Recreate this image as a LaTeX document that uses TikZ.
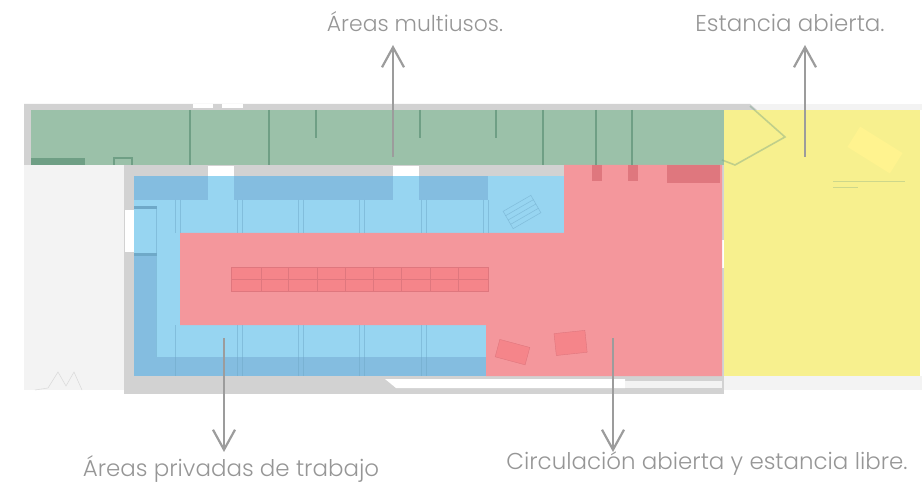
\documentclass[tikz,border=0pt]{standalone}
\usepackage{fontspec}
\setmainfont{Poppins Light}
\usetikzlibrary{arrows.meta}
\definecolor{zgreen}{HTML}{9BC1A9}
\definecolor{zgreenD}{HTML}{6F9F85}
\definecolor{zblue}{HTML}{97D5F1}
\definecolor{zblueD}{HTML}{84BDE0}
\definecolor{zblueL}{HTML}{6FA9C8}
\definecolor{zred}{HTML}{F4979C}
\definecolor{zredD}{HTML}{F5858A}
\definecolor{zredW}{HTML}{DF777E}
\definecolor{zyellow}{HTML}{F7F08E}
\definecolor{zyellowL}{HTML}{FFF38F}
\definecolor{zwall}{HTML}{D2D2D2}
\definecolor{zfloor}{HTML}{F3F3F3}
\definecolor{ztext}{HTML}{969696}
\definecolor{zarrow}{HTML}{9C9C9C}
\tikzset{
  label text/.style={text=ztext,font=\fontsize{22.95}{26}\selectfont,inner sep=0pt,anchor=base},
  callout/.style={draw=zarrow,line width=2.4pt,-{Straight Barb[length=20pt,width=22pt,line width=2.2pt]}},
  zone/.style={draw=none},
  wall/.style={fill=zwall,draw=none},
  partition/.style={draw=zgreenD,line width=2pt},
  thin blue/.style={draw=zblueL,line width=.6pt,opacity=.5},
  desk/.style={fill=zredD,draw=zredW,line width=.4pt},
}
\begin{document}
\begin{tikzpicture}[x=1pt,y=-1pt]
\useasboundingbox (0,0) rectangle (922,484);
% pale plan background
\fill[zfloor] (24,165) rectangle (124,390);
\fill[zfloor] (724,376) rectangle (922,390);
\fill[zfloor] (750,104) rectangle (922,110);
\draw[zwall,line width=.6pt,opacity=.7] (35,390) -- (48,388) -- (58,372) -- (66,386) -- (74,372) -- (82,390);
% walls
\fill[wall] (24,104) -- (750,104) -- (757,110) -- (24,110) -- cycle;
\fill[white] (193,104) rectangle (213,108);
\fill[white] (222,104) rectangle (243,108);
\fill[wall] (24,104) rectangle (31,165);
\fill[wall] (124,165) rectangle (564,176);
\fill[white] (208,166) rectangle (234,176);
\fill[white] (393,166) rectangle (419,176);
\fill[wall] (124,165) rectangle (134,394);
\fill[white] (125,210) rectangle (134,252);
\fill[wall] (124,376) rectangle (724,394);
\fill[white] (385,379) -- (625,379) -- (625,388) -- (396,388) -- cycle;
\fill[zfloor] (625,381) rectangle (722,388);
\fill[wall] (722,165) rectangle (724,376);
\fill[white] (722,240) rectangle (724,268);
% colour zones
\fill[zone,zgreen] (31,110) rectangle (724,165);
\fill[zone,zblue] (134,176) rectangle (564,376);
\fill[zone,zred] (180,233) -- (564,233) -- (564,165) -- (722,165) -- (722,376) -- (486,376) -- (486,325) -- (180,325) -- cycle;
\fill[zone,zyellow] (724,110) rectangle (920,376);
% blue darker bands
\fill[zblueD] (134,176) rectangle (208,200);
\fill[zblueD] (234,176) rectangle (393,200);
\fill[zblueD] (419,176) rectangle (488,200);
\fill[zblueD] (134,357) rectangle (486,376);
\fill[zblueD] (134,255) rectangle (156,357);
\fill[zblueL] (134,206) rectangle (157,209);
\fill[zblueL] (134,253) rectangle (157,256);
% blue thin structure
\foreach \cx in {175,180,237,242,298,303,359,364,421,426,483,488}{
  \draw[thin blue] (\cx,200) -- (\cx,233);
}
\foreach \cx in {175,237,242,298,303,359,364,421,426}{
  \draw[thin blue] (\cx,325) -- (\cx,376);
}
\draw[thin blue] (156,209) -- (156,357);
\draw[thin blue,rotate around={30:(522,212)}] (506,202) rectangle (538,222);
\draw[thin blue,rotate around={30:(522,212)}] (506,207) -- (538,207) (506,212) -- (538,212) (506,217) -- (538,217);
% green partitions
\foreach \cx in {190,269,543,596,632}{ \draw[partition] (\cx,110) -- (\cx,165); }
\foreach \cx in {316,420,496}{ \draw[partition] (\cx,110) -- (\cx,138); }
\fill[zgreenD] (31,158) rectangle (85,165);
\draw[partition] (114,165) -- (114,158) -- (132,158) -- (132,165);
% tables in the red zone
\foreach \ax/\bx in {231/261,261/288,288/317,317/345,345/373,373/401,401/430,430/458,458/488}{
  \draw[desk] (\ax,267) rectangle (\bx,291);
  \draw[zredW,line width=.4pt] (\ax,279) -- (\bx,279);
}
\draw[desk,rotate around={-15:(512,352)}] (497,343) rectangle (528,361);
\draw[desk,rotate around={6:(570,342)}] (555,332) rectangle (586,354);
% wall stubs over red
\fill[zredW] (592,165) rectangle (602,181);
\fill[zredW] (628,165) rectangle (638,181);
\fill[zredW] (667,165) rectangle (720,183);
% entrance shape in yellow
\draw[draw=zgreenD,opacity=.4,line width=1.6pt] (750,106) -- (785,137) -- (735,165) -- (722,160);
\fill[zyellowL,rotate around={-32:(875,150)}] (850,138) rectangle (900,162);
\draw[zgreenD,opacity=.3,line width=.6pt] (833,181) -- (905,181) (833,187) -- (858,187);
% labels
\node[label text,font=\fontsize{21.9}{26}\selectfont] (multi) at (415,32) {Áreas multiusos.};
\node[label text] (abierta) at (790,32) {Estancia abierta.};
\node[label text] (privadas) at (231,476) {Áreas privadas de trabajo};
\node[label text] (circ) at (707,469) {Circulación abierta y estancia libre.};
% arrow ends
\coordinate (m0) at (393,157); \coordinate (m1) at (393,45);
\coordinate (a0) at (805,157); \coordinate (a1) at (805,45);
\coordinate (p0) at (224,338); \coordinate (p1) at (224,452);
\coordinate (c0) at (613,338); \coordinate (c1) at (613,452);
\draw[callout] (m0) -- (m1);
\draw[callout] (a0) -- (a1);
\draw[callout] (p0) -- (p1);
\draw[callout] (c0) -- (c1);
\end{tikzpicture}
\end{document}
